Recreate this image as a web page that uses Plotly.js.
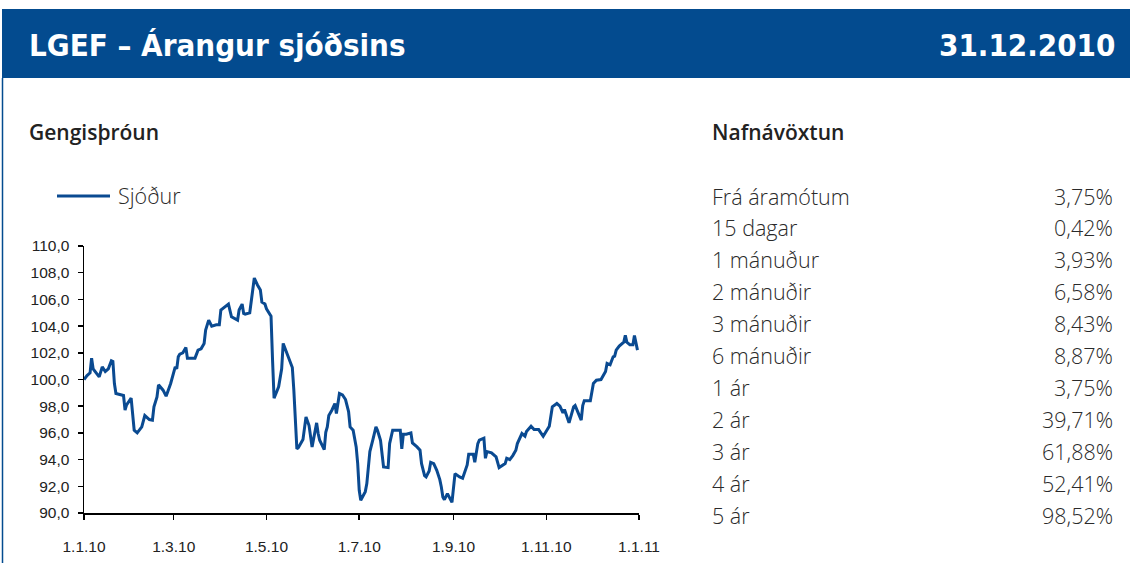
<!DOCTYPE html>
<html>
<head>
<meta charset="utf-8">
<script src="https://cdn.plot.ly/plotly-3.0.1.min.js"></script>
<style>
  html, body { margin: 0; padding: 0; background: #ffffff; }
  #chart { width: 1130px; height: 563px; }
</style>
</head>
<body>
<div id="chart"></div>
<script>
// ---- Data ----
const seriesName = "Sjóður";
const dates = [
  "2010-01-01","2010-01-03","2010-01-05","2010-01-06","2010-01-07","2010-01-11","2010-01-13","2010-01-15","2010-01-17","2010-01-19",
  "2010-01-20","2010-01-21","2010-01-22","2010-01-27","2010-01-28","2010-01-29","2010-02-01","2010-02-02","2010-02-03","2010-02-05",
  "2010-02-08","2010-02-10","2010-02-13","2010-02-15","2010-02-16","2010-02-18","2010-02-19","2010-02-22","2010-02-24","2010-02-27",
  "2010-03-01","2010-03-02","2010-03-03","2010-03-04","2010-03-05","2010-03-07","2010-03-09","2010-03-10","2010-03-13","2010-03-15",
  "2010-03-17","2010-03-19","2010-03-21","2010-03-22","2010-03-24","2010-03-26","2010-03-29","2010-03-31","2010-04-01","2010-04-02",
  "2010-04-05","2010-04-06","2010-04-08","2010-04-10","2010-04-12","2010-04-13","2010-04-15","2010-04-16","2010-04-17","2010-04-20",
  "2010-04-21","2010-04-23","2010-04-25","2010-04-27","2010-04-28","2010-04-30","2010-05-01","2010-05-03","2010-05-04","2010-05-05",
  "2010-05-06","2010-05-09","2010-05-11","2010-05-12","2010-05-15","2010-05-18","2010-05-19","2010-05-20","2010-05-21","2010-05-22",
  "2010-05-25","2010-05-27","2010-05-29","2010-05-31","2010-06-03","2010-06-04","2010-06-05","2010-06-08","2010-06-09","2010-06-10",
  "2010-06-11","2010-06-13","2010-06-15","2010-06-16","2010-06-18","2010-06-20","2010-06-22","2010-06-24","2010-06-25","2010-06-27",
  "2010-06-29","2010-06-30","2010-07-01","2010-07-02","2010-07-05","2010-07-06","2010-07-08","2010-07-10","2010-07-12","2010-07-13",
  "2010-07-15","2010-07-17","2010-07-20","2010-07-21","2010-07-23","2010-07-28","2010-07-29","2010-07-30","2010-08-01","2010-08-04",
  "2010-08-05","2010-08-08","2010-08-10","2010-08-11","2010-08-13","2010-08-14","2010-08-16","2010-08-17","2010-08-19","2010-08-21",
  "2010-08-23","2010-08-24","2010-08-25","2010-08-26","2010-08-28","2010-08-31","2010-09-01","2010-09-02","2010-09-05","2010-09-07",
  "2010-09-10","2010-09-11","2010-09-14","2010-09-15","2010-09-17","2010-09-18","2010-09-21","2010-09-22","2010-09-23","2010-09-26",
  "2010-09-29","2010-10-01","2010-10-05","2010-10-06","2010-10-08","2010-10-10","2010-10-12","2010-10-13","2010-10-16","2010-10-18",
  "2010-10-19","2010-10-22","2010-10-24","2010-10-27","2010-10-30","2010-11-01","2010-11-03","2010-11-05","2010-11-08","2010-11-10",
  "2010-11-12","2010-11-13","2010-11-16","2010-11-19","2010-11-20","2010-11-22","2010-11-24","2010-11-25","2010-11-26","2010-11-30",
  "2010-12-02","2010-12-04","2010-12-07","2010-12-10","2010-12-11","2010-12-13","2010-12-15","2010-12-16","2010-12-17","2010-12-19",
  "2010-12-22","2010-12-23","2010-12-24","2010-12-26","2010-12-28","2010-12-29","2010-12-30","2010-12-31"
];
const values = [
  100.0,100.3,100.5,101.6,100.8,100.2,100.95,100.6,100.8,101.4,
  101.35,99.7,98.95,98.8,97.7,98.1,98.6,97.6,96.2,96.0,
  96.45,97.3,97.0,96.95,97.95,98.7,99.6,99.2,98.75,99.7,
  100.6,100.95,100.8,101.7,101.9,102.0,102.4,101.6,101.6,101.6,
  102.2,102.3,102.7,103.7,104.45,104.0,104.1,104.1,105.2,105.3,
  105.6,105.65,104.7,104.6,104.45,105.2,105.65,104.95,104.9,105.0,
  105.95,107.6,107.1,106.7,105.8,105.65,105.3,104.95,104.75,101.45,
  98.6,99.45,100.8,102.7,101.8,100.9,99.2,96.7,94.8,94.9,
  95.5,97.2,96.55,94.95,96.75,95.95,95.45,94.75,96.05,96.45,
  97.3,97.7,98.2,97.45,98.95,98.85,98.5,97.6,96.45,96.2,
  94.95,93.7,91.7,90.95,91.6,92.2,94.6,95.5,96.45,96.2,
  95.45,93.45,93.4,95.2,96.2,96.2,94.8,95.9,95.9,96.0,
  95.25,94.95,94.7,93.7,92.8,92.7,93.15,93.8,93.7,93.2,
  92.5,91.95,91.2,91.0,91.45,90.8,91.95,92.95,92.7,92.6,
  93.6,94.4,94.4,93.8,95.2,95.45,95.6,94.1,94.6,94.5,
  94.2,93.4,93.7,94.1,94.0,94.3,94.7,95.2,95.95,95.75,
  96.1,96.5,96.25,96.25,95.75,96.1,96.5,97.95,98.2,98.0,
  97.5,97.75,96.75,97.95,98.05,97.5,96.95,98.05,98.4,98.4,
  99.7,99.95,100.0,100.6,101.2,101.1,101.7,101.75,102.2,102.5,
  102.8,103.3,102.8,102.6,102.6,103.3,102.7,102.2
];
const periods = ["Frá áramótum","15 dagar","1 mánuður","2 mánuðir","3 mánuðir","6 mánuðir","1 ár","2 ár","3 ár","4 ár","5 ár"];
const returns = ["3,75%","0,42%","3,93%","6,58%","8,43%","8,87%","3,75%","39,71%","61,88%","52,41%","98,52%"];
const headerTitle = "LGEF – Árangur sjóðsins";
const headerDate = "31.12.2010";
const chartTitle = "Gengisþróun";
const tableTitle = "Nafnávöxtun";

// ---- Layout helpers (pixel -> paper coordinates) ----
const W = 1130, H = 563;
const PL = 84, PR = 639, PT = 246, PB = 513;
const px = x => (x - PL) / (PR - PL);
const py = y => (PB - y) / (PB - PT);

const BLUE = "#034b8f";
const LINE = "#0a4a91";
const TEXT = "#222222";
const headFont = {family: "Liberation Sans Narrow, DejaVu Sans Condensed, Arial Narrow, sans-serif", size: 31, color: "#ffffff", weight: 700};
const subFont = {family: "Open Sans, Noto Sans, sans-serif", size: 21, color: TEXT, weight: 600};
const tableFont = {family: "Open Sans, Noto Sans, sans-serif", size: 21.5, color: "#2a2a2a", weight: 300};

const annotations = [
  {text: headerTitle, x: px(28), y: py(45), xanchor: "left", yanchor: "middle", font: headFont},
  {text: headerDate, x: px(1116), y: py(45), xanchor: "right", yanchor: "middle", font: headFont},
  {text: chartTitle, x: px(28), y: py(132), xanchor: "left", yanchor: "middle", font: subFont},
  {text: tableTitle, x: px(711), y: py(132), xanchor: "left", yanchor: "middle", font: subFont},
  {text: seriesName, x: px(117), y: py(195), xanchor: "left", yanchor: "middle", font: tableFont}
];
periods.forEach((p, i) => {
  const yy = 196 + 31.9 * i;
  annotations.push({text: p, x: px(711), y: py(yy), xanchor: "left", yanchor: "middle", font: tableFont});
  annotations.push({text: returns[i], x: px(1114), y: py(yy), xanchor: "right", yanchor: "middle", font: tableFont});
});
annotations.forEach(a => { a.xref = "paper"; a.yref = "paper"; a.showarrow = false; a.borderpad = 0; });

const shapes = [
  {type: "rect", xref: "paper", yref: "paper", x0: px(2), x1: px(1132), y0: py(9), y1: py(78), fillcolor: BLUE, line: {width: 0}, layer: "below"},
  {type: "line", xref: "paper", yref: "paper", x0: px(2.5), x1: px(2.5), y0: py(78), y1: py(565), line: {color: BLUE, width: 1.5}},
  {type: "line", xref: "paper", yref: "paper", x0: px(57), x1: px(110), y0: py(196), y1: py(196), line: {color: LINE, width: 3}}
];

const trace = {
  type: "scatter", mode: "lines", name: seriesName,
  x: dates, y: values,
  line: {color: LINE, width: 3},
  hoverinfo: "x+y"
};

const layout = {
  width: W, height: H,
  margin: {l: PL, r: W - PR, t: PT, b: H - PB, pad: 0},
  paper_bgcolor: "#ffffff", plot_bgcolor: "#ffffff",
  separators: ", ",
  showlegend: false,
  xaxis: {
    type: "date",
    range: ["2010-01-01", "2011-01-01"],
    tick0: "2010-01-01", dtick: "M2",
    tickformat: "%-d.%-m.%y",
    showgrid: false, zeroline: false,
    showline: true, linecolor: "#000000", linewidth: 1.5,
    ticks: "outside", ticklen: 5, tickwidth: 1.5, tickcolor: "#000000",
    ticklabelstandoff: 14,
    tickfont: {family: "Liberation Sans, Arial, sans-serif", size: 15.5, color: TEXT},
    fixedrange: true
  },
  yaxis: {
    range: [90, 110],
    tick0: 90, dtick: 2,
    tickformat: ".1f",
    showgrid: false, zeroline: false,
    showline: true, linecolor: "#000000", linewidth: 1.5,
    ticks: "outside", ticklen: 5, tickwidth: 1.5, tickcolor: "#000000",
    ticklabelstandoff: 5,
    tickfont: {family: "Liberation Sans, Arial, sans-serif", size: 15.5, color: TEXT},
    fixedrange: true
  },
  annotations: annotations,
  shapes: shapes
};

Plotly.newPlot("chart", [trace], layout, {displayModeBar: false, staticPlot: true});
</script>
</body>
</html>
